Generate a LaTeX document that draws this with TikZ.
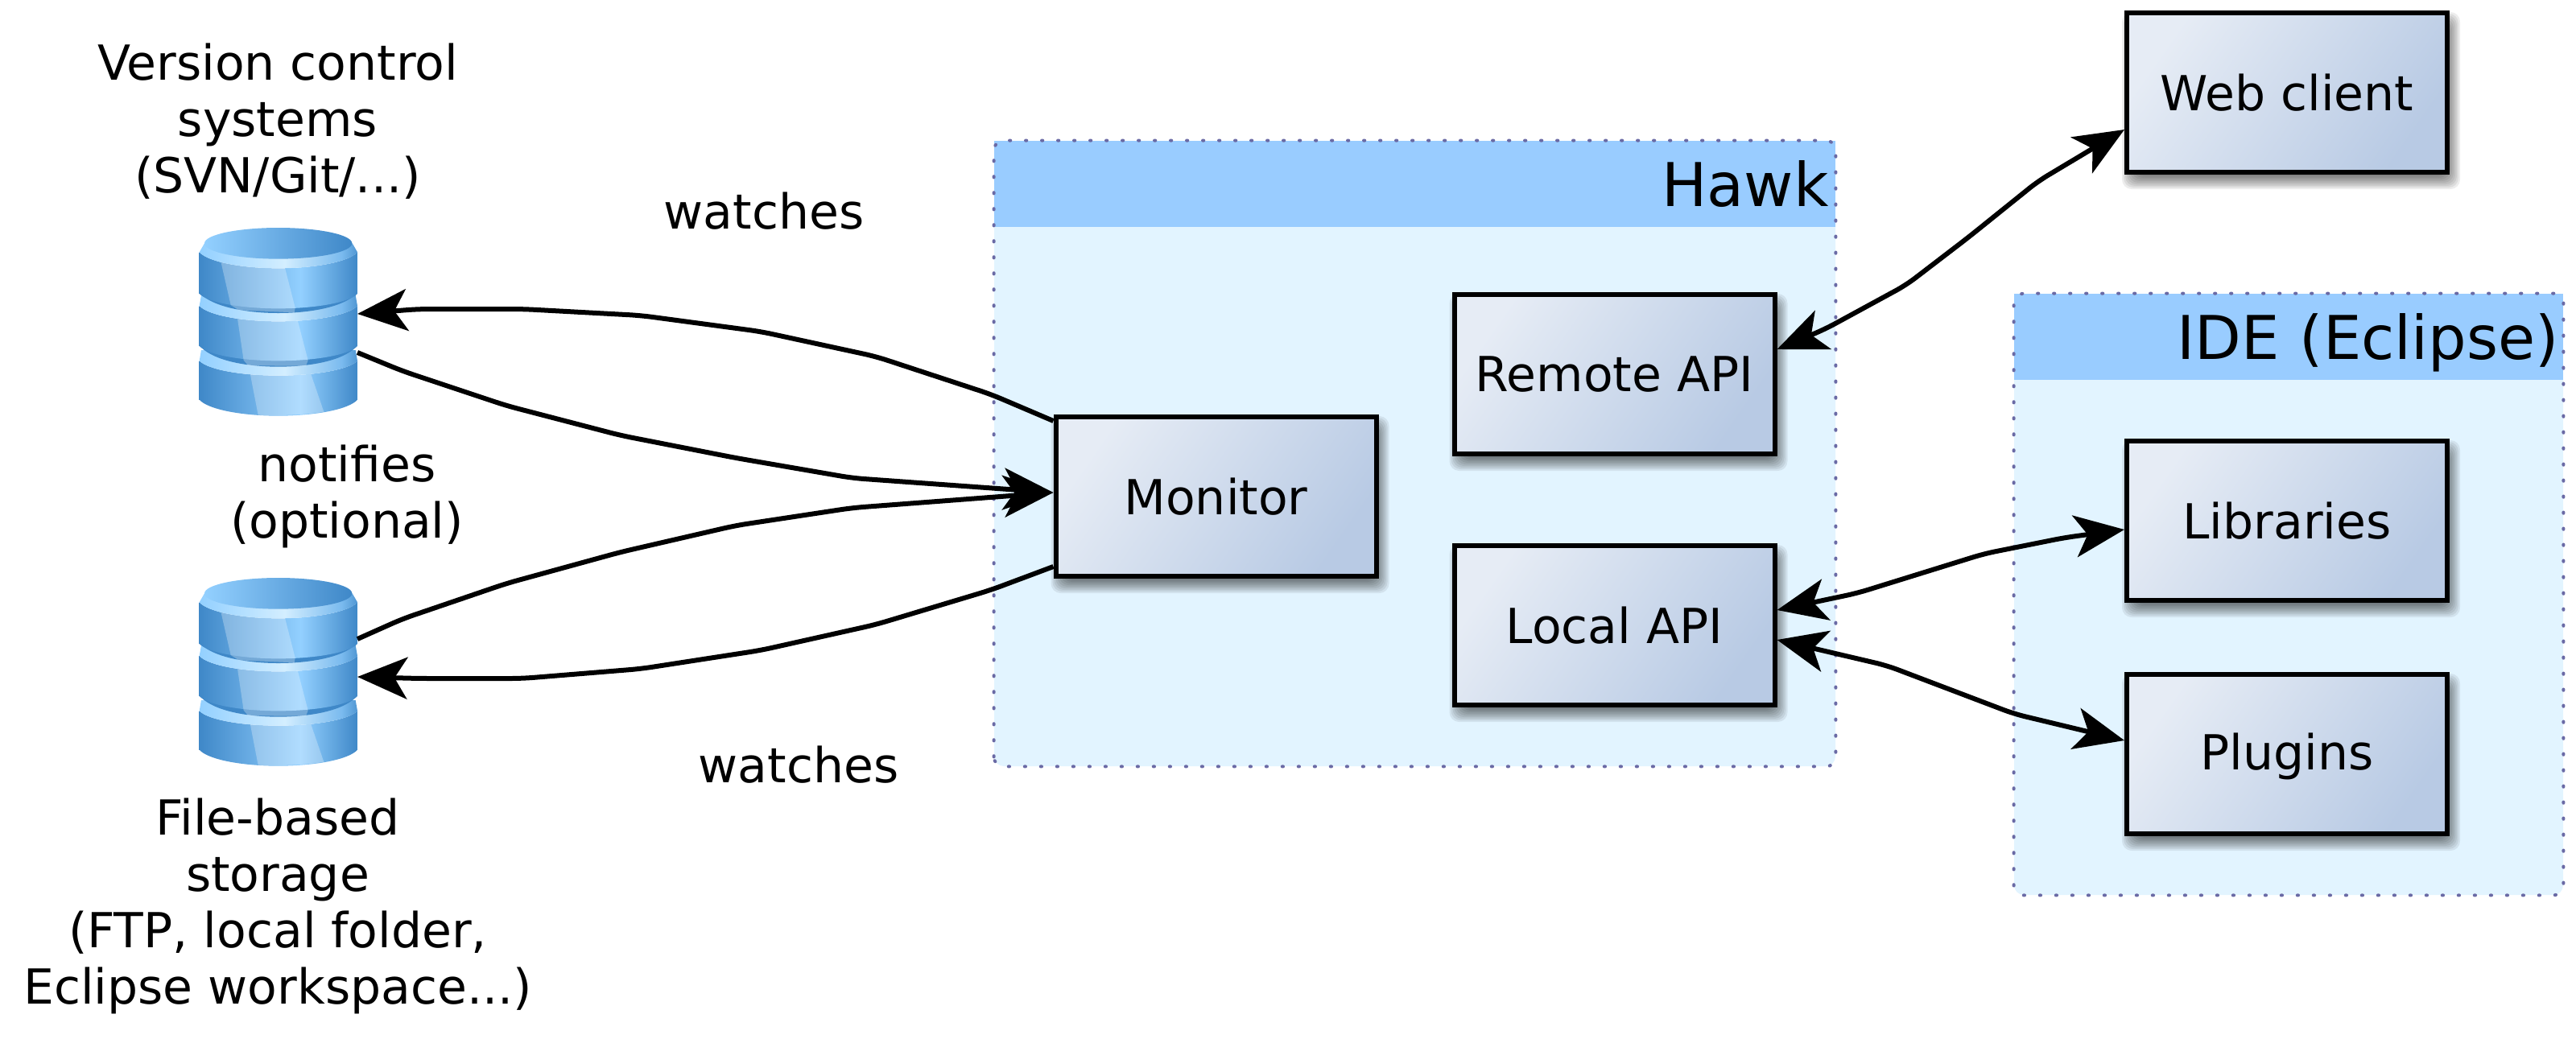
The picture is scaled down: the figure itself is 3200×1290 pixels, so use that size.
\documentclass[tikz,border=0pt]{standalone}
\usepackage{fontspec}
\setmainfont{DejaVu Sans}
\usetikzlibrary{arrows.meta}
\definecolor{dbdark}{HTML}{3F88C8}
\definecolor{dblight}{HTML}{93D0FF}
\definecolor{dbring}{HTML}{D3EEFF}
\definecolor{contfill}{HTML}{E2F4FF}
\definecolor{headfill}{HTML}{99CCFF}
\definecolor{dotcol}{HTML}{6A6AA5}
\definecolor{boxa}{HTML}{E6ECF5}
\definecolor{boxb}{HTML}{B8CAE4}
\pgfdeclarehorizontalshading{dbbody}{100bp}{color(0bp)=(dbdark);color(25bp)=(dbdark);color(57bp)=(dblight);color(75bp)=(dbdark);color(100bp)=(dbdark)}
\pgfdeclarehorizontalshading{dbringsh}{100bp}{color(0bp)=(dblight);color(25bp)=(dblight);color(52bp)=(dbring);color(70bp)=(dblight!70!dbdark);color(75bp)=(dbdark!80!dblight);color(100bp)=(dbdark)}
\pgfdeclarehorizontalshading{dbtopsh}{100bp}{color(0bp)=(dblight);color(25bp)=(dblight);color(75bp)=(dbdark);color(100bp)=(dbdark)}
\tikzset{
  container/.style={draw=none,fill=contfill,rounded corners=6pt,inner sep=0pt},
  dotborder/.style={draw=dotcol,line width=2pt,line cap=round,dash pattern=on 0.6pt off 9.4pt,rounded corners=6pt},
  headbar/.style={fill=headfill,inner sep=0pt,align=right,font=\fontsize{37.5}{43}\selectfont},
  gbox/.style={draw=black,line width=3pt,left color=boxa,right color=boxb,shading angle=55,
    minimum width=199pt,minimum height=99pt,inner sep=0pt,font=\fontsize{30}{35}\selectfont},
  label/.style={inner sep=0pt,align=center,font=\fontsize{30}{35}\selectfont},
  conn/.style={line width=3pt,rounded corners=7pt,line join=round},
  both/.style={conn,{Stealth[length=31pt,width=26pt,inset=8pt]}-{Stealth[length=31pt,width=26pt,inset=8pt]}},
  tohead/.style={conn,-{Stealth[length=31pt,width=26pt,inset=8pt]}},
  dbfoot/.style={minimum width=98pt,minimum height=117pt,inner sep=0pt,outer sep=0pt},
}
\newcommand{\gshadow}[2]{%
  \foreach \r in {8,6,...,-8}{%
    \fill[black,opacity=.07,rounded corners=6pt] ({#1-197-\r},{#2-92-\r}) rectangle ({#1+207+\r},{#2+112+\r});
  }%
}
\newcommand{\lowarc}[2]{.. controls (175,#1+#2*.6) and (300,#1+#2) .. (437,#1+#2) .. controls (575,#1+#2) and (700,#1+#2*.6) .. (732,#1)}
\newcommand{\lowarcback}[2]{.. controls (700,#1+#2*.6) and (575,#1+#2) .. (437,#1+#2) .. controls (300,#1+#2) and (175,#1+#2*.6) .. (143,#1)}
% body top, body bottom, ring offset, bottom offset, ring top, ring top x inset, highlight polygon
\newcommand{\dbdrum}[7]{%
  \shade[shading=dbbody] (143,#1) \lowarc{#1}{#3} -- (732,#2) \lowarcback{#2}{#4} -- cycle;
  \fill[white,opacity=.28] #7;
  \shade[shading=dbringsh] (143,#1) -- (143+#6,#5) -- (732-#6,#5) -- (732,#1) \lowarcback{#1}{#3} -- cycle;
}
\newcommand{\dbicon}[1]{%
  \begin{scope}[shift={(200,#1)},x=0.16667pt,y=-0.16667pt]
    \dbdrum{565}{710}{55}{60}{525}{7}{(322,560) -- (540,560) -- (607,755) .. controls (530,768) and (440,769) .. (362,767) -- cycle}
    \fill[dbdark] (150,515) .. controls (200,565) and (320,587) .. (437,587) .. controls (555,587) and (675,565) .. (725,515) -- cycle;
    \dbdrum{360}{510}{58}{55}{320}{7}{(278,360) -- (495,360) -- (548,563) -- (540,584) -- (325,583) -- (308,563) -- cycle}
    \fill[dbdark] (150,318) .. controls (200,365) and (320,387) .. (437,387) .. controls (555,387) and (675,365) .. (725,318) -- cycle;
    \dbdrum{160}{315}{60}{55}{127}{19}{(215,160) -- (447,160) -- (500,367) -- (497,385) -- (290,376) -- (260,357) -- cycle}
    \shade[shading=dbtopsh] (437,127) ellipse [x radius=275,y radius=58];
  \end{scope}%
}
\begin{document}
\begin{tikzpicture}[x=0.5pt,y=-0.5pt]
\useasboundingbox (0,0) rectangle (3200,1290);

% containers
\node[container,minimum width=522.5pt,minimum height=388.5pt] (hawk) at (1757.5,563.5) {};
\node[headbar,minimum width=522.5pt,minimum height=53.5pt,text width=514pt] (hawkhead) at (1757.5,228.5) {Hawk};
\draw[dotborder] (hawk.south west) rectangle (hawk.north east);
\node[container,minimum width=341pt,minimum height=373.5pt] (ide) at (2843,738.5) {};
\node[headbar,minimum width=341pt,minimum height=53.5pt,text width=335.5pt] (idehead) at (2843,418.5) {\raisebox{0pt}[28.5pt][1pt]{IDE (Eclipse)}};
\draw[dotborder] (ide.south west) rectangle (ide.north east);

% databases
\dbicon{260}
\node[dbfoot] (db1) at (346,400) {};
\dbicon{695}
\node[dbfoot] (db2) at (346,835) {};

% boxes
\gshadow{2841}{115}
\node[gbox] (web) at (2841,115) {Web client};
\gshadow{2841}{647}
\node[gbox] (lib) at (2841,647) {Libraries};
\gshadow{2841}{937}
\node[gbox] (plug) at (2841,937) {\raisebox{0pt}[22.8pt][3pt]{Plugins}};
\gshadow{2005.5}{465}
\node[gbox] (remote) at (2005.5,465) {Remote API};
\gshadow{2005.5}{777}
\node[gbox] (local) at (2005.5,777) {Local API};
\gshadow{1510.5}{617}
\node[gbox] (mon) at (1510.5,617) {Monitor};

% labels
\node[label] (vcs) at (345,151) {Version control\\systems\\(SVN/Git/...)};
\node[label] (w1) at (949,262) {watches};
\node[label] (notif) at (431,617) {notifies\\(optional)};
\node[label] (fbs) at (345,1126) {File-based\\storage\\(FTP, local folder,\\Eclipse workspace...)};
\node[label] (w2) at (992,950) {watches};

% connectors
\draw[tohead] (mon.west |- 0,523) -- (1231,490) -- (1088,443) -- (945,412) -- (796,392) -- (649,384) -- (520,384) -- (db1.east |- 0,390);
\draw[tohead] (db1.east |- 0,438) -- (500,461) -- (629,504) -- (771,541) -- (914,569) -- (1059,594) -- (mon.west |- 0,612);
\draw[tohead] (db2.east |- 0,794) -- (500,769) -- (629,725) -- (771,686) -- (914,653) -- (1059,631) -- (mon.west |- 0,612);
\draw[tohead] (mon.west |- 0,704) -- (1231,733) -- (1088,776) -- (945,808) -- (796,831) -- (649,843) -- (520,843) -- (db2.east |- 0,841);
\draw[both] (remote.east |- 0,434) -- (2267,409) -- (2368,354) -- (2445,295) -- (2532,225) -- (web.west |- 0,161);
\draw[both] (local.east |- 0,758) -- (2307,737) -- (2465,688) -- (2565,668) -- (lib.west |- 0,658);
\draw[both] (local.east |- 0,795) -- (2344,827) -- (2502,887) -- (plug.west |- 0,920);
\end{tikzpicture}
\end{document}
